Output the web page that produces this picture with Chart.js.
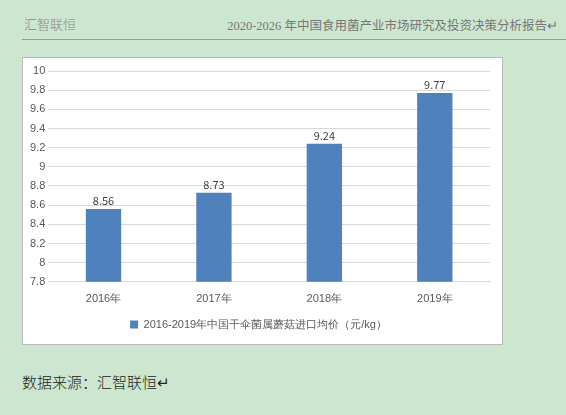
<!DOCTYPE html>
<html>
<head>
<meta charset="utf-8">
<script src="https://cdn.jsdelivr.net/npm/chart.js@4/dist/chart.umd.min.js"></script>
<style>
  body { margin: 0; width: 566px; height: 415px; background: #cde6cf; position: relative; overflow: hidden;
         font-family: "Noto Sans CJK SC", sans-serif; }
  #hl { position: absolute; left: 24px; top: 14px; font-size: 13px; color: #888; font-weight: 300; }
  #hr { position: absolute; right: 8px; top: 15px; font-size: 12.5px; color: #777; font-family: "Liberation Serif", "Noto Sans CJK SC", serif; }
  #rule { position: absolute; left: 22px; right: 0; top: 39px; border-top: 1px solid #999; }
  #box { position: absolute; left: 22px; top: 57px; width: 481px; height: 288px; background: #fff; border: 1px solid #bbb; box-sizing: border-box; }
  #foot { position: absolute; left: 22px; top: 371px; font-size: 15px; color: #222; font-weight: 300; }
</style>
</head>
<body>
<div id="hl">汇智联恒</div>
<div id="hr">2020-2026 年中国食用菌产业市场研究及投资决策分析报告↵</div>
<div id="rule"></div>
<div id="box"><canvas id="c" width="479" height="286"></canvas></div>
<div id="foot">数据来源：汇智联恒↵</div>
<script>
// data
var years = ['2016年', '2017年', '2018年', '2019年'];
var prices = [8.56, 8.73, 9.24, 9.77];
var seriesName = '2016-2019年中国干伞菌属蘑菇进口均价（元/kg）';

var barLabels = {
  id: 'barLabels',
  afterDatasetsDraw: function(chart) {
    var ctx = chart.ctx;
    ctx.save();
    ctx.font = '11px "Noto Sans CJK SC", sans-serif';
    ctx.fillStyle = '#404040';
    ctx.textAlign = 'center';
    chart.getDatasetMeta(0).data.forEach(function(bar, i) {
      ctx.fillText(prices[i].toFixed(2), bar.x, bar.y - 8);
    });
    ctx.restore();
  }
};

new Chart(document.getElementById('c'), {
  type: 'bar',
  data: {
    labels: years,
    datasets: [{ label: seriesName, data: prices, backgroundColor: '#4f81bd', categoryPercentage: 1, barPercentage: 0.32 }]
  },
  options: {
    responsive: false,
    animation: false,
    layout: { padding: { left: 4, right: 12, top: 13, bottom: 4 } },
    scales: {
      y: {
        min: 7.8, max: 10,
        ticks: { stepSize: 0.2, color: '#595959', font: { size: 11 }, callback: function(v) { return Math.round(v * 10) / 10; } },
        grid: { color: '#d9d9d9', drawTicks: false },
        border: { display: false }
      },
      x: {
        ticks: { color: '#595959', font: { size: 11 } },
        grid: { display: false },
        border: { color: '#d9d9d9' }
      }
    },
    plugins: {
      legend: { position: 'bottom', labels: { boxWidth: 8, boxHeight: 8, color: '#595959', font: { size: 11 } } },
      tooltip: { enabled: false }
    }
  },
  plugins: [barLabels]
});
</script>
</body>
</html>
